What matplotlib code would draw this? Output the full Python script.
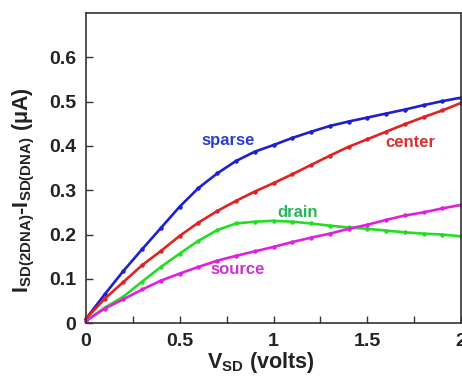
import matplotlib
matplotlib.use("Agg")
import matplotlib.pyplot as plt
from matplotlib.ticker import MultipleLocator

plt.rcParams['font.family'] = ['Liberation Sans', 'DejaVu Sans']
plt.rcParams['mathtext.fontset'] = 'custom'
plt.rcParams['mathtext.rm'] = 'Liberation Sans:bold'
plt.rcParams['mathtext.it'] = 'Liberation Sans:bold'
plt.rcParams['mathtext.bf'] = 'Liberation Sans:bold'

vsd = [0.0, 0.1, 0.2, 0.3, 0.4, 0.5, 0.6, 0.7, 0.8, 0.9, 1.0,
       1.1, 1.2, 1.3, 1.4, 1.5, 1.6, 1.7, 1.8, 1.9, 2.0]
sparse = [0.010, 0.065, 0.118, 0.167, 0.215, 0.263, 0.305, 0.338, 0.366, 0.387, 0.402,
          0.418, 0.432, 0.445, 0.455, 0.464, 0.473, 0.482, 0.492, 0.501, 0.509]
center = [0.010, 0.055, 0.093, 0.131, 0.163, 0.197, 0.227, 0.253, 0.276, 0.297, 0.316,
          0.336, 0.357, 0.378, 0.398, 0.415, 0.432, 0.449, 0.465, 0.480, 0.497]
drain = [0.005, 0.035, 0.060, 0.094, 0.127, 0.157, 0.186, 0.210, 0.225, 0.229, 0.231,
         0.229, 0.225, 0.220, 0.216, 0.213, 0.209, 0.205, 0.202, 0.200, 0.196]
source = [0.005, 0.033, 0.054, 0.076, 0.096, 0.112, 0.127, 0.141, 0.152, 0.162, 0.172,
          0.183, 0.193, 0.202, 0.213, 0.222, 0.233, 0.243, 0.250, 0.259, 0.267]

series = [
    (sparse, '#1f1fd0', 'sparse', '#2a3fcf', 0.76, 0.413),
    (center, '#e02222', 'center', '#d93030', 1.73, 0.408),
    (drain, '#22dd22', 'drain', '#2bb55a', 1.13, 0.25),
    (source, '#e020e0', 'source', '#cc33cc', 0.81, 0.12),
]

fig = plt.figure(figsize=(4.62, 3.82), dpi=100)
ax = fig.add_axes([0.186, 0.154, 0.812, 0.812])

for vals, col, name, tcol, tx, ty in series:
    ax.plot(vsd, vals, color=col, lw=1.9, marker='o', ms=2.2, mec=col, mfc=col, clip_on=False)
    ax.text(tx, ty, name, color=tcol, fontsize=12, fontweight='bold', ha='center', va='center')

ax.set_xlim(0, 2)
ax.set_ylim(0, 0.7)
ax.xaxis.set_minor_locator(MultipleLocator(0.25))
ax.set_xticks([0, 0.5, 1, 1.5, 2])
ax.set_xticklabels(['0', '0.5', '1', '1.5', '2'])
ax.set_yticks([0, 0.1, 0.2, 0.3, 0.4, 0.5, 0.6])
ax.set_yticklabels(['0', '0.1', '0.2', '0.3', '0.4', '0.5', '0.6'])
ax.tick_params(which='both', direction='in', length=5, width=1, colors='#333333', labelcolor='#222222')
ax.tick_params(axis='x', pad=7)
ax.tick_params(axis='y', pad=7)
for lab in ax.get_xticklabels() + ax.get_yticklabels():
    lab.set_fontsize(14)
    lab.set_fontweight('bold')
for sp in ax.spines.values():
    sp.set_linewidth(1.2)
    sp.set_color('#333333')

ax.set_xlabel(r'V$_{SD}$ (volts)', fontsize=15.5, fontweight='bold', color='#222222')
ax.xaxis.set_label_coords(0.467, -0.085)
ax.set_ylabel(r'I$_{SD(2DNA)}$-I$_{SD(DNA)}$ (μA)', fontsize=15.5, fontweight='bold', color='#222222')
ax.yaxis.set_label_coords(-0.13, 0.43)

fig.savefig('out.png', dpi=100)
